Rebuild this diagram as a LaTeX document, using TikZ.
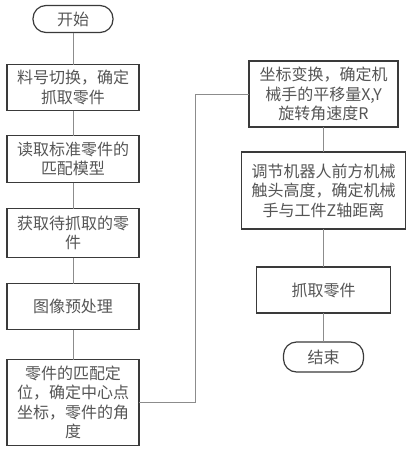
\documentclass[tikz,border=0pt]{standalone}
\usepackage{fontspec}
\setmainfont{Noto Sans CJK SC}
\usepackage{tikz}
\usetikzlibrary{positioning}
\usepackage{xcolor}
\definecolor{boxline}{HTML}{3A3A3A}
\definecolor{txt}{HTML}{555555}
\definecolor{conn}{HTML}{8C8C8C}

\begin{document}
\begin{tikzpicture}[x=1pt,y=1pt,node distance=26pt,
  box/.style={draw=boxline,line width=1.2pt,align=center,inner sep=0pt,outer sep=0pt,text=txt,font=\fontsize{16}{19.5}\selectfont,minimum width=132pt},
  term/.style={box,rounded corners=13pt,minimum width=80pt},
  line/.style={draw=conn,line width=1pt}]
\useasboundingbox (0,0) rectangle (410,-450);
\node[term,minimum height=27pt] (start) at (73,-19) {开始};
\node[box,below=32pt of start,minimum height=46pt] (switch) {料号切换，确定\\抓取零件};
\node[box,below=25pt of switch,minimum height=47pt] (model) {读取标准零件的\\匹配模型};
\node[box,below=of model,minimum height=49pt] (acquire) {获取待抓取的零\\件};
\node[box,below=of acquire,minimum height=46pt] (prep) {图像预处理};
\node[box,below=30pt of prep,minimum height=86pt] (locate) {零件的匹配定\\位，确定中心点\\坐标，零件的角\\度};
\node[box,minimum width=149pt,minimum height=66pt] (transf) at (323.5,-94) {坐标变换，确定机\\械手的平移量X,Y\\旋转角速度R};
\node[box,below=25pt of transf,minimum width=164pt,minimum height=77pt] (adjust) {调节机器人前方机械\\触头高度，确定机械\\手与工件Z轴距离};
\node[box,below=38pt of adjust,minimum width=134pt,minimum height=46pt] (grab) {抓取零件};
\node[term,below=29pt of grab,minimum height=30pt] (stop) {结束};
\draw[line] (start)--(switch);
\draw[line] (switch)--(model);
\draw[line] (model)--(acquire);
\draw[line] (acquire)--(prep);
\draw[line] (prep)--(locate);
\draw[line] (locate.east)--++(56,0) |- (transf);
\draw[line] (transf)--(adjust);
\draw[line] (adjust)--(grab);
\draw[line] (grab)--(stop);
\end{tikzpicture}
\end{document}
